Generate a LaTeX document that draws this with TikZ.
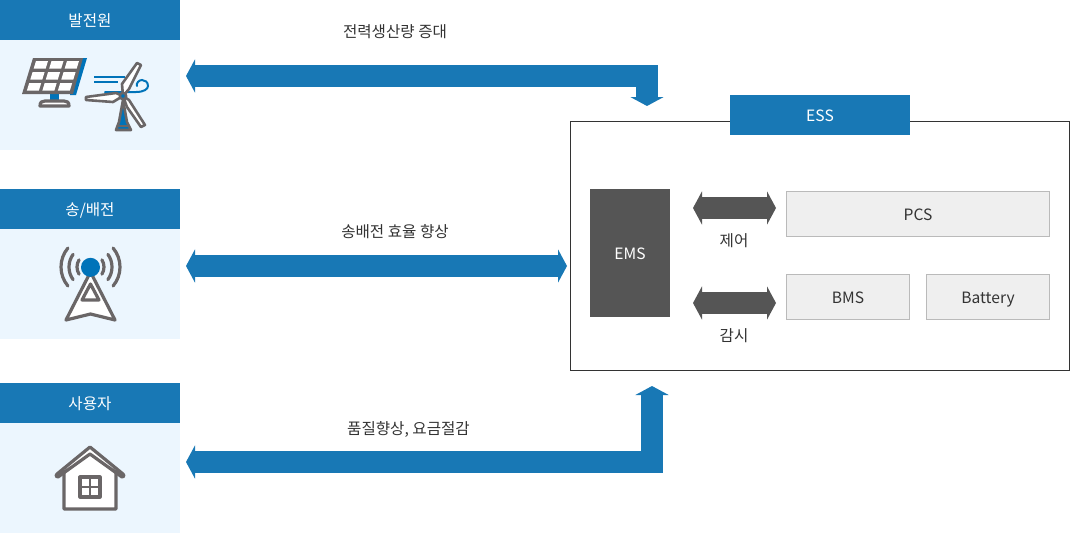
\documentclass[tikz,border=0pt]{standalone}
\usepackage{fontspec}
\setmainfont{Noto Sans CJK KR}
\usetikzlibrary{arrows.meta}
\definecolor{essblue}{RGB}{24,120,181}
\definecolor{palepanel}{RGB}{236,246,254}
\definecolor{darkbox}{RGB}{85,85,85}
\definecolor{lightbox}{RGB}{239,239,239}
\definecolor{icongray}{RGB}{106,102,103}
\definecolor{iconblue}{RGB}{0,115,185}

\begin{document}
\begin{tikzpicture}[
    x=1pt, y=-1pt,
    every node/.style={inner sep=0pt, outer sep=0pt, align=center, font=\fontsize{15.6}{18}\selectfont, text=black!80, text height=15pt, text depth=2pt},
    head/.style={fill=essblue, text=white, minimum width=180pt, minimum height=40pt},
    panel/.style={fill=palepanel, minimum width=180pt, minimum height=110pt},
    unit/.style={fill=lightbox, draw=black!27, line width=1pt, minimum height=45pt},
    bigarr/.style={draw=essblue, line width=22pt, miter limit=10, {Triangle[length=9pt,width=33pt]}-{Triangle[length=9pt,width=33pt]}},
    ctlarr/.style={draw=darkbox, line width=22pt, {Triangle[length=9pt,width=33pt]}-{Triangle[length=9pt,width=33pt]}},
    ico/.style={draw=icongray, line width=3.2pt, line join=round, line cap=round}
]
    \useasboundingbox (0,0) rectangle (1070,533);

    % Left column
    \node[head] (GenHead) at (90,20) {발전원};
    \node[panel] (GenBody) at (90,95) {};
    \node[head] (GridHead) at (90,209) {송/배전};
    \node[panel] (GridBody) at (90,284) {};
    \node[head] (UserHead) at (90,403) {사용자};
    \node[panel] (UserBody) at (90,478) {};

    % ESS frame
    \node[draw=black!80, line width=1pt, fill=white, minimum width=499pt, minimum height=249pt] (ESS) at (820,246) {};
    \node[fill=essblue, text=white, minimum width=180pt, minimum height=40pt] (ESSHead) at (820,115) {ESS};
    \node[fill=darkbox, text=white, minimum width=80pt, minimum height=128pt] (EMS) at (630,253) {EMS};
    \node[unit, minimum width=263pt] (PCS) at (918,214) {PCS};
    \node[unit, minimum width=123pt] (BMS) at (848,297) {BMS};
    \node[unit, minimum width=123pt] (Bat) at (988,297) {Battery};

    % Arrow ends
    \coordinate (GenEnd) at (186,76);
    \coordinate (GenBend) at (647,76);
    \coordinate (GenTip) at (647,106);
    \coordinate (GridEnd) at (186,266);
    \coordinate (GridTip) at (567,266);
    \coordinate (UserEnd) at (186,462);
    \coordinate (UserBend) at (652,462);
    \coordinate (UserTip) at (652,386);
    \coordinate (CtlL) at (693,208);
    \coordinate (CtlR) at (776,208);
    \coordinate (MonL) at (693,303);
    \coordinate (MonR) at (776,303);

    % Arrows
    \draw[bigarr] (GenEnd) -- (GenBend) -- (GenTip);
    \draw[bigarr] (GridEnd) -- (GridTip);
    \draw[bigarr] (UserEnd) -- (UserBend) -- (UserTip);
    \draw[ctlarr] (CtlL) -- (CtlR);
    \draw[ctlarr] (MonL) -- (MonR);

    % Labels
    \node (GenLabel) at (395,31) {전력생산량 증대};
    \node (GridLabel) at (395,231) {송배전 효율 향상};
    \node (UserLabel) at (408.5,428) {품질향상, 요금절감};
    \node (CtlLabel) at (734,240) {제어};
    \node (MonLabel) at (734,335) {감시};

    % Solar panel icon
    \fill[iconblue] (80,58) -- (87,58) -- (76,95) -- (70,95) -- cycle;
    \fill[iconblue] (50,94) rectangle (59,103);
    \draw[ico, fill=white] (40,106) .. controls (40,102) and (42,101) .. (45,101) -- (64,101) .. controls (67,101) and (69,102) .. (69,106) -- cycle;
    \fill[icongray] (33,58) -- (83,58) -- (73,94) -- (22,94) -- cycle;
    \foreach \r in {0,1,2} {
        \foreach \c in {0,1,2} {
            \fill[white] ({36+\c*15.5-\r*3.4},{61+\r*11}) -- ++(12,0) -- ++(-2.3,7.5) -- ++(-12,0) -- cycle;
        }
    }

    % Wind turbine icon
    \draw[iconblue, line width=2pt] (94,77) -- (125,77);
    \draw[iconblue, line width=2pt] (94,82) -- (118,82);
    \draw[iconblue, line width=2pt, line cap=round] (105,92) -- (136,92) .. controls (144,92) and (148,89) .. (148,86) .. controls (148,82) and (145,80) .. (142,80) .. controls (139,80) and (136,83) .. (137,86);
    \draw[ico, fill=iconblue, line width=2.6pt] (123,100) -- (127,122) -- (131,130) -- (116,130) -- (119,122) -- cycle;
    \draw[ico, line width=2.4pt] (118,126) -- (129,126);
    \draw[ico, fill=white, line width=2.6pt] (123,96) -- (122,84) -- (137,63) -- (141,65) -- (129,89) -- cycle;
    \draw[ico, fill=white, line width=2.6pt] (123,96) -- (113,102) -- (86,100) -- (86,97) -- (116,93) -- cycle;
    \draw[ico, fill=white, line width=2.6pt] (123,96) -- (129,100) -- (145,125) -- (141,127) -- (127,107) -- cycle;
    \draw[icongray, line width=2.4pt, fill=iconblue] (123,96) circle (3.2);

    % Tower icon
    \foreach \rad/\ang in {13.5/32,21.5/36,29.5/40} {
        \draw[ico] (90.5,267) ++(180-\ang:\rad) arc[start angle=180-\ang, end angle=180+\ang, radius=\rad];
        \draw[ico] (90.5,267) ++(\ang:\rad) arc[start angle=\ang, end angle=-\ang, radius=\rad];
    }
    \draw[ico, fill=white] (90.5,272) -- (115,320) -- (90.5,314) -- (66,320) -- cycle;
    \draw[ico, fill=white] (90.5,284) -- (99,300) -- (82,300) -- cycle;
    \fill[iconblue] (90.5,267.3) circle (9.5);

    % House icon
    \draw[ico, fill=white] (64,472) -- (64,509) -- (116,509) -- (116,472) -- (90,453) -- cycle;
    \draw[ico, fill=white] (57,474) -- (90,447) -- (123,474) -- (124,476) -- (122,477) -- (90,454) -- (58,477) -- (56,476) -- cycle;
    \draw[ico] (80,477) rectangle (100,497);
    \draw[ico, line width=2.6pt] (90,477) -- (90,497);
    \draw[ico, line width=2.6pt] (80,487) -- (100,487);
\end{tikzpicture}
\end{document}
